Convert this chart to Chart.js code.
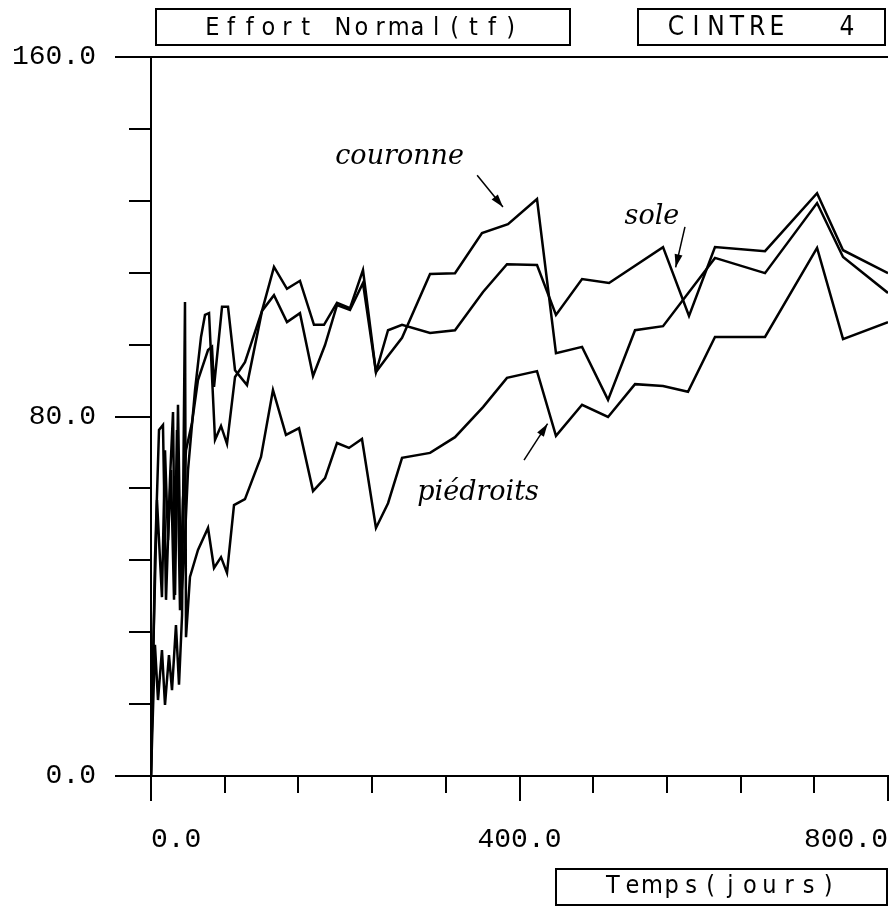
<!DOCTYPE html>
<html><head><meta charset="utf-8">
<script src="https://cdn.jsdelivr.net/npm/chart.js@4"></script>
<style>html,body{margin:0;padding:0;background:#fff}canvas{display:block}</style>
</head><body>
<canvas id="c" width="890" height="911"></canvas>
<script>
// ---- data (days, tf) ----
const couronneDays = [0,4.3,8.7,13.0,16.3,20.6,23.9,26.1,29.3,32.6,35.8,40.2,47.8,54.3,58.6,63.0,69.5,76.0,82.5,91.2,102.0,120.5,133.5,147.6,161.7,176.9,187.8,201.9,216.0,230.1,244.2,256.2,272.5,302.9,330.0,359.3,387.5,419.0,439.6,467.9,496.1,525.4,555.8,612.2,666.5,723.0,751.2,800];
const couronneVals = [0,48.1,77.0,78.1,39.2,65.9,81.0,40.3,82.6,39.2,48.1,68.1,85.9,97.7,102.6,103.0,74.8,77.9,73.9,88.8,92.1,103.5,113.3,108.4,110.2,100.4,100.4,105.3,104.1,112.6,89.9,93.2,97.5,111.7,111.9,120.8,122.8,128.4,94.1,95.5,83.7,99.2,100.1,115.3,111.9,127.5,115.5,107.5];

const soleDays = [0,2.2,6.5,9.8,11.9,15.2,18.5,21.7,25.0,28.2,31.5,34.7,38.0,44.5,51.0,61.9,66.2,68.4,77.1,83.6,91.2,104.2,120.5,133.5,147.6,161.7,175.9,188.9,201.9,216.0,230.1,244.2,257.3,272.5,302.9,330.0,360.4,386.4,419.0,439.6,467.9,497.2,555.8,584.0,612.2,666.5,723.0,751.2,800];
const soleVals = [0,25.8,61.4,48.1,39.8,72.5,52.5,68.1,39.2,77.0,36.9,61.4,72.5,78.6,88.1,94.8,95.5,86.6,104.4,104.4,90.3,87.0,103.5,107.0,101.0,103.0,89.0,95.9,104.8,103.7,109.7,89.9,99.2,100.4,98.6,99.2,107.7,113.9,113.7,102.6,110.6,109.7,117.7,102.4,117.7,116.8,129.7,117.0,111.9];

const piedroitsDays = [0,4.3,7.6,11.9,15.2,19.5,22.8,27.1,30.4,33.7,36.9,38.0,42.3,51.0,61.9,68.4,76.0,82.5,90.1,102.0,119.4,132.4,146.5,160.7,175.9,188.9,201.9,214.9,229.0,244.2,257.3,272.5,302.9,330.0,360.4,386.4,419.0,439.6,467.9,496.1,525.4,555.8,582.9,612.2,666.5,723.0,751.2,800];
const piedroitsVals = [0,29.2,16.9,28.0,15.8,26.9,19.1,33.6,20.3,35.8,105.5,30.9,44.3,50.3,55.2,46.3,48.7,45.2,60.3,61.6,71.0,85.9,75.9,77.4,63.4,66.3,74.1,73.0,75.0,55.2,60.7,70.8,71.9,75.4,82.1,88.6,90.1,75.7,82.6,79.9,87.2,86.8,85.5,97.7,97.7,117.5,97.2,101.0];

const seriesNames = ['couronne', 'sole', 'piédroits'];
const xTickLabels = [0, 400, 800];
const yTickLabels = [0, 80, 160];
const titleText = 'Effort Normal(tf)';
const cintreText = 'CINTRE 4';
const xAxisTitle = 'Temps(jours)';

function pts(xs, ys) { return xs.map((x, i) => ({ x: x, y: ys[i] })); }

const monoFont = "'Liberation Mono', 'DejaVu Sans Mono', monospace";
const plotFont = "'DejaVu Sans Condensed', 'Liberation Sans Narrow', 'DejaVu Sans', sans-serif";

function drawSpaced(ctx, text, x0, x1, yMid, font) {
  const pitch = (x1 - x0) / text.length;
  ctx.font = font;
  ctx.textAlign = 'center';
  ctx.textBaseline = 'middle';
  for (let i = 0; i < text.length; i++) {
    ctx.fillText(text[i], x0 + pitch * (i + 0.5), yMid);
  }
}

function arrow(ctx, x0, y0, x1, y1) {
  ctx.beginPath(); ctx.moveTo(x0, y0); ctx.lineTo(x1, y1); ctx.stroke();
  const ang = Math.atan2(y1 - y0, x1 - x0), L = 13, W = 4;
  ctx.beginPath();
  ctx.moveTo(x1, y1);
  ctx.lineTo(x1 - L * Math.cos(ang) + W * Math.sin(ang), y1 - L * Math.sin(ang) - W * Math.cos(ang));
  ctx.lineTo(x1 - L * Math.cos(ang) - W * Math.sin(ang), y1 - L * Math.sin(ang) + W * Math.cos(ang));
  ctx.closePath(); ctx.fill();
}

const decor = {
  id: 'decor',
  afterDraw(chart) {
    const ctx = chart.ctx, xs = chart.scales.x, ys = chart.scales.y, a = chart.chartArea;
    const X = v => xs.getPixelForValue(v), Y = v => ys.getPixelForValue(v);
    ctx.save();
    ctx.strokeStyle = '#000'; ctx.fillStyle = '#000'; ctx.lineWidth = 2;
    // top frame line
    ctx.beginPath(); ctx.moveTo(a.left, Math.round(a.top)); ctx.lineTo(a.right, Math.round(a.top)); ctx.stroke();
    // longer major ticks
    yTickLabels.forEach(v => {
      const p = Math.round(Y(v));
      ctx.beginPath(); ctx.moveTo(a.left - 36, p); ctx.lineTo(a.left - 20, p); ctx.stroke();
    });
    xTickLabels.forEach(v => {
      const p = Math.round(X(v));
      ctx.beginPath(); ctx.moveTo(p, a.bottom + 15); ctx.lineTo(p, a.bottom + 25); ctx.stroke();
    });
    // boxed titles
    ctx.lineWidth = 2;
    ctx.strokeRect(156, 9, 414, 36);
    drawSpaced(ctx, titleText, 203, 520, 28, "25px " + plotFont);
    ctx.strokeRect(638, 9, 247, 36);
    // "CINTRE 4": tight letters then a wide gap before the number
    ctx.font = "26px " + plotFont; ctx.textAlign = 'center'; ctx.textBaseline = 'middle';
    const cx = [676, 696, 716, 737, 757, 777, 812, 847];
    for (let i = 0; i < cintreText.length; i++) ctx.fillText(cintreText[i], cx[i], 28);
    ctx.strokeRect(556, 869, 331, 36);
    drawSpaced(ctx, xAxisTitle, 603, 838, 886, "25px " + plotFont);
    // series annotations
    ctx.font = "italic 27px 'DejaVu Serif', 'Liberation Serif', serif";
    ctx.textAlign = 'left'; ctx.textBaseline = 'alphabetic';
    ctx.fillText(seriesNames[0], X(200), Y(136.2));
    ctx.fillText(seriesNames[1], X(514), Y(122.8));
    ctx.fillText(seriesNames[2], X(289), Y(61.4));
    ctx.lineWidth = 1.5;
    arrow(ctx, X(354), Y(133.7), X(382), Y(126.6));
    arrow(ctx, X(579.6), Y(122.2), X(569.5), Y(113.2));
    arrow(ctx, X(404.9), Y(70.3), X(430.5), Y(78.4));
    ctx.restore();
  }
};

const lineStyle = { borderColor: '#000', borderWidth: 2.5, pointRadius: 0, tension: 0, fill: false };

new Chart(document.getElementById('c'), {
  type: 'line',
  data: {
    datasets: [
      Object.assign({ label: seriesNames[0], data: pts(couronneDays, couronneVals) }, lineStyle),
      Object.assign({ label: seriesNames[1], data: pts(soleDays, soleVals) }, lineStyle),
      Object.assign({ label: seriesNames[2], data: pts(piedroitsDays, piedroitsVals) }, lineStyle)
    ]
  },
  options: {
    responsive: false,
    animation: false,
    devicePixelRatio: 1,
    layout: { padding: { top: 57, right: 2, left: 0, bottom: 0 } },
    plugins: { legend: { display: false }, tooltip: { enabled: false } },
    scales: {
      x: {
        type: 'linear', min: 0, max: 800,
        ticks: {
          stepSize: 80, autoSkip: false, maxRotation: 0, align: 'inner', color: '#000', padding: 30,
          font: { family: monoFont, size: 28 },
          callback: v => xTickLabels.includes(v) ? v.toFixed(1) : ''
        },
        grid: { drawOnChartArea: false, drawTicks: true, tickLength: 17, color: '#000', lineWidth: 2 },
        border: { display: true, color: '#000', width: 2 },
        afterFit: s => { s.height = 135; s.paddingLeft = 0; s.paddingRight = 0; }
      },
      y: {
        type: 'linear', min: 0, max: 160,
        ticks: {
          stepSize: 16, autoSkip: false, color: '#000', padding: 33,
          font: { family: monoFont, size: 28 },
          callback: v => yTickLabels.includes(v) ? v.toFixed(1) : ''
        },
        grid: { drawOnChartArea: false, drawTicks: true, tickLength: 22, color: '#000', lineWidth: 2 },
        border: { display: true, color: '#000', width: 2 },
        afterFit: s => { s.width = 151; s.paddingTop = 0; s.paddingBottom = 0; }
      }
    }
  },
  plugins: [decor]
});
</script>
</body></html>
